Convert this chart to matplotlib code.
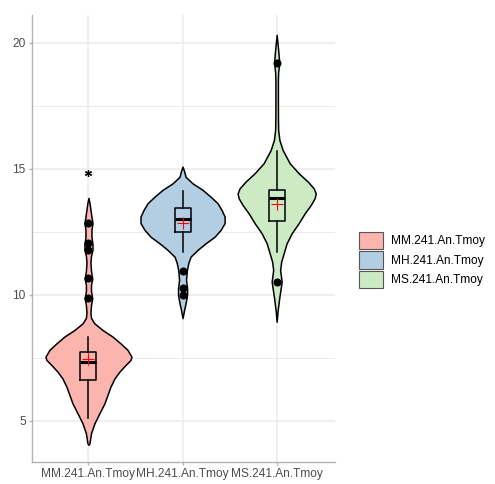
import matplotlib
matplotlib.use("Agg")
import matplotlib.pyplot as plt
from matplotlib.patches import Patch

plt.rcParams['font.family'] = ['Liberation Sans', 'DejaVu Sans']

# groupes
noms = ["MM.241.An.Tmoy", "MH.241.An.Tmoy", "MS.241.An.Tmoy"]
couleurs = ["#FBB4AE", "#B3CDE3", "#CCEBC5"]

# contour des violons : valeur y et demi-largeur (unites de categorie)
mm_y = [4.05, 4.12, 4.51, 4.91, 5.31, 5.70, 6.03, 6.36, 6.69, 6.96, 7.22, 7.42, 7.55,
        7.82, 8.08, 8.35, 8.61, 8.88, 9.09, 9.3, 9.6, 9.87, 10.15, 10.4, 10.65, 10.95,
        11.3, 11.55, 11.8, 12.0, 12.3, 12.6, 12.85, 13.1, 13.4, 13.65, 13.85]
mm_w = [0.0, 0.011, 0.027, 0.064, 0.117, 0.170, 0.202, 0.234, 0.277, 0.330, 0.394, 0.447, 0.457,
        0.415, 0.340, 0.255, 0.149, 0.061, 0.027, 0.021, 0.027, 0.040, 0.027, 0.027, 0.040, 0.027,
        0.021, 0.027, 0.043, 0.043, 0.032, 0.032, 0.043, 0.032, 0.021, 0.011, 0.0]

mh_y = [9.08, 9.40, 9.67, 10.0, 10.27, 10.60, 10.99, 11.26, 11.52, 11.79, 12.05, 12.31, 12.58,
        12.85, 13.11, 13.37, 13.64, 13.90, 14.17, 14.43, 14.69, 14.92, 15.09]
mh_w = [0.0, 0.016, 0.032, 0.048, 0.048, 0.037, 0.046, 0.061, 0.085, 0.160, 0.245, 0.340, 0.404,
        0.447, 0.447, 0.415, 0.372, 0.298, 0.213, 0.106, 0.032, 0.016, 0.0]

ms_y = [8.94, 9.40, 9.87, 10.27, 10.53, 10.99, 11.32, 11.65, 12.05, 12.45, 12.85, 13.24, 13.57,
        13.84, 14.03, 14.23, 14.50, 14.83, 15.23, 15.75, 16.15, 16.55, 16.94, 17.74, 18.53,
        18.85, 19.19, 19.52, 19.92, 20.32]
ms_w = [0.0, 0.011, 0.027, 0.043, 0.053, 0.037, 0.048, 0.074, 0.106, 0.160, 0.234, 0.298, 0.362,
        0.404, 0.415, 0.394, 0.330, 0.234, 0.138, 0.064, 0.029, 0.016, 0.014, 0.013, 0.013,
        0.016, 0.027, 0.021, 0.011, 0.0]

# boites a moustaches
q1 = [6.62, 12.49, 12.95]
med = [7.33, 13.0, 13.83]
q3 = [7.72, 13.44, 14.18]
w_bas = [5.11, 11.72, 11.70]
w_haut = [8.35, 14.14, 15.70]
moyennes = [7.46, 12.87, 13.61]
aberrants = [[9.87, 10.66, 11.8, 12.05, 12.85], [10.0, 10.27, 10.97], [10.5, 19.19]]
etoile_x = [1]
etoile_y = [14.82]

fig = plt.figure(figsize=(4.95, 4.84), dpi=100)
ax = fig.add_axes([32/495, 22/484, 303/495, 447/484])

profils = [(mm_y, mm_w), (mh_y, mh_w), (ms_y, ms_w)]
for i, (yy, ww) in enumerate(profils):
    pos = i + 1
    gauche = [pos - w for w in ww]
    droite = [pos + w for w in ww]
    ax.fill_betweenx(yy, gauche, droite, facecolor=couleurs[i], edgecolor="black",
                     linewidth=1.1, zorder=2)

stats = []
for i in range(3):
    stats.append({"med": med[i], "q1": q1[i], "q3": q3[i], "whislo": w_bas[i],
                  "whishi": w_haut[i], "mean": moyennes[i], "fliers": aberrants[i]})
ax.bxp(stats, positions=[1, 2, 3], widths=0.17, showcaps=False, showmeans=True,
       boxprops=dict(color="black", linewidth=1.1),
       whiskerprops=dict(color="black", linewidth=1.1),
       medianprops=dict(color="black", linewidth=2.2),
       meanprops=dict(marker="+", markeredgecolor="red", markersize=8, markeredgewidth=0.8),
       flierprops=dict(marker="o", markerfacecolor="black", markeredgecolor="black", markersize=4.8),
       manage_ticks=False, zorder=3)
ax.plot(etoile_x, etoile_y, linestyle="none", marker=(6, 2, 0), color="black",
        markersize=5, markeredgewidth=0.9, zorder=4)

ax.set_xlim(0.4, 3.62)
ax.set_ylim(3.37, 21.11)
ax.set_xticks([1, 2, 3])
ax.set_xticklabels(noms)
ax.set_yticks([5, 10, 15, 20])
ax.set_yticks([7.5, 12.5, 17.5], minor=True)
ax.grid(True, which="major", color="#ebebeb", linewidth=1.1, zorder=0)
ax.grid(True, which="minor", axis="y", color="#ebebeb", linewidth=0.7, zorder=0)
ax.set_axisbelow(True)
for s in ["top", "right"]:
    ax.spines[s].set_visible(False)
for s in ["left", "bottom"]:
    ax.spines[s].set_color("#b3b3b3")
    ax.spines[s].set_linewidth(1.0)
ax.tick_params(which="major", color="#b3b3b3", length=2.5, width=1.0, pad=2,
               labelsize=8.6, labelcolor="#4d4d4d")
ax.tick_params(which="minor", length=0)

poignees = [Patch(facecolor=c, edgecolor="#555555", linewidth=0.8) for c in couleurs]
fig.legend(poignees, noms, loc="center left", bbox_to_anchor=(359/495, 1 - 260/484),
           frameon=False, fontsize=8.6, handlelength=2.0, handleheight=1.9,
           labelspacing=0.15, handletextpad=0.65, borderpad=0, borderaxespad=0)

fig.savefig("out.png", dpi=100)
